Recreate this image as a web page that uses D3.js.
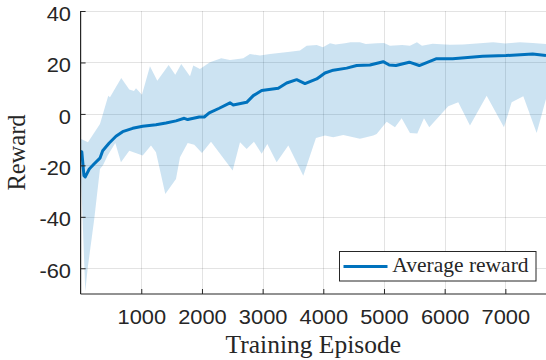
<!DOCTYPE html>
<html>
<head>
<meta charset="utf-8">
<script src="https://cdn.jsdelivr.net/npm/d3@7"></script>
<style>
  html, body { margin: 0; padding: 0; background: #ffffff; }
  svg { display: block; }
</style>
</head>
<body>
<svg id="chart" width="546" height="360"></svg>
<script>
// Average training reward with its min/max spread over episodes
const meanEpisodes = [0, 20, 55, 77, 143, 225, 319, 364, 472, 583, 693, 858, 1023, 1242, 1407, 1572, 1708, 1765, 1956, 2038, 2120, 2285, 2462, 2516, 2737, 2846, 2984, 3258, 3396, 3561, 3698, 3891, 4027, 4164, 4385, 4550, 4769, 4988, 5087, 5197, 5417, 5581, 5857, 6132, 6626, 7010, 7450, 7670];
const meanReward = [-14.6, -14.8, -24, -24.5, -21.4, -19.4, -17.2, -14.3, -11.3, -8.7, -6.9, -5.6, -4.8, -4.2, -3.5, -2.7, -1.7, -2.2, -1.2, -1.2, 0.4, 2.2, 4.3, 3.5, 4.5, 7.1, 9.1, 10.0, 12.0, 13.3, 11.8, 13.6, 15.9, 17.0, 17.8, 18.8, 19.0, 20.3, 19.0, 18.8, 20.1, 18.8, 21.4, 21.4, 22.4, 22.7, 23.3, 22.7];

const upperEpisodes = [0, 121, 319, 456, 484, 670, 802, 880, 913, 1011, 1143, 1264, 1451, 1560, 1659, 1803, 1857, 1967, 2132, 2318, 2462, 2627, 2681, 2791, 2956, 3121, 3450, 3615, 3726, 3891, 3994, 4110, 4200, 4357, 4450, 4604, 4700, 4879, 5000, 5098, 5300, 5428, 5543, 5626, 5800, 6087, 6300, 6581, 6800, 7000, 7241, 7450, 7670];
const upperReward = [-9.7, -11, -3.9, 7.1, 6.5, 14.0, 9.5, 8.9, 10.0, 7.4, 18.5, 12.9, 19.0, 15.2, 19.4, 14.6, 18.8, 17.5, 20.1, 21.6, 21.0, 21.4, 21.6, 23.3, 22.7, 23.3, 24.2, 24.6, 26.5, 26.8, 25.9, 27.5, 27.0, 27.5, 27.9, 27.9, 27.2, 27.5, 27.6, 26.5, 26.8, 26.5, 27.9, 26.5, 27.3, 26.9, 27.0, 27.5, 27.9, 27.4, 27.9, 27.6, 27.2];

const lowerEpisodes = [0, 77, 117, 225, 319, 369, 446, 572, 665, 802, 1023, 1160, 1242, 1396, 1572, 1638, 1765, 1873, 2000, 2149, 2506, 2627, 2737, 2857, 2984, 3077, 3231, 3423, 3670, 3879, 4027, 4164, 4329, 4604, 4824, 4879, 5044, 5181, 5291, 5428, 5549, 5659, 5746, 6059, 6224, 6417, 6692, 6977, 7104, 7296, 7516, 7670];
const lowerReward = [-20, -69, -60, -40.8, -21.4, -20, -16.2, -11.3, -18.8, -14.3, -16.2, -12.3, -14.9, -31.1, -25.3, -16.8, -11.3, -12.0, -15.2, -10.8, -22.0, -11, -13.6, -10.8, -15.5, -11.7, -18.8, -12.3, -24.0, -9.4, -8.4, -9.1, -8.2, -9.7, -8.4, -7.8, -3.0, -5.2, -1.7, -7.4, -7.6, -1.7, -5.2, 3.0, 4.5, -4.5, 7.1, -5.2, 4.5, 6.9, -7.4, 5.8];

const xTicks = [1000, 2000, 3000, 4000, 5000, 6000, 7000];
const yTicks = [-60, -40, -20, 0, 20, 40];
const xLabel = "Training Episode";
const yLabel = "Reward";
const legendLabel = "Average reward";

const blue = "#0072BD";
const ink = "#262626";

const svg = d3.select("#chart");
const plotLeft = 80.6, plotRight = 546, plotTop = 11, plotBottom = 294;

const x = d3.scaleLinear().domain([0, 7670]).range([plotLeft, plotRight]);
const y = d3.scaleLinear().domain([-70, 40]).range([plotBottom, plotTop]);

// grid
const grid = svg.append("g").attr("stroke", "rgba(38,38,38,0.13)").attr("stroke-width", 1);
grid.selectAll("line.v").data(xTicks).join("line").attr("class", "v")
  .attr("x1", d => Math.round(x(d)) + 0.5).attr("x2", d => Math.round(x(d)) + 0.5)
  .attr("y1", plotTop).attr("y2", plotBottom);
grid.selectAll("line.h").data(yTicks).join("line").attr("class", "h")
  .attr("y1", d => Math.round(y(d)) + 0.5).attr("y2", d => Math.round(y(d)) + 0.5)
  .attr("x1", plotLeft).attr("x2", plotRight);

// spread band: upper edge forward, lower edge back
const upperPts = upperEpisodes.map((e, i) => [e, upperReward[i]]);
const lowerPts = lowerEpisodes.map((e, i) => [e, lowerReward[i]]).reverse();
const pathLine = d3.line().x(d => x(d[0])).y(d => y(d[1]));
svg.append("path")
  .attr("d", pathLine(upperPts.concat(lowerPts)) + "Z")
  .attr("fill", blue).attr("fill-opacity", 0.2).attr("stroke", "none");

// mean line
const meanPts = meanEpisodes.map((e, i) => [e, meanReward[i]]);
svg.append("path")
  .attr("d", pathLine(meanPts))
  .attr("fill", "none").attr("stroke", blue).attr("stroke-width", 3)
  .attr("stroke-linejoin", "round");

// axes (plain hyphen for negative labels)
const plainFormat = d => String(d);
const xAxis = svg.append("g").attr("transform", `translate(0,${plotBottom})`)
  .call(d3.axisBottom(x).tickValues(xTicks).tickSize(-5).tickPadding(0).tickFormat(plainFormat));
const yAxis = svg.append("g").attr("transform", `translate(${plotLeft},0)`)
  .call(d3.axisLeft(y).tickValues(yTicks).tickSize(-5).tickPadding(0).tickFormat(plainFormat));

[xAxis, yAxis].forEach(a => {
  a.select(".domain").remove();
  a.selectAll(".tick line").attr("stroke", ink).attr("stroke-width", 1);
  a.selectAll(".tick text")
    .attr("fill", ink)
    .attr("font-family", "'Liberation Sans', Arial, sans-serif")
    .attr("font-size", "19.5px");
});
svg.append("line").attr("x1", plotLeft).attr("x2", plotRight).attr("y1", plotBottom).attr("y2", plotBottom)
  .attr("stroke", ink).attr("stroke-width", 1.2);
svg.append("line").attr("x1", plotLeft).attr("x2", plotLeft).attr("y1", plotTop).attr("y2", plotBottom)
  .attr("stroke", ink).attr("stroke-width", 1.2);

xAxis.selectAll(".tick text")
  .attr("y", 30).attr("dy", null)
  .attr("transform", "scale(1.12,1)");
yAxis.selectAll(".tick text")
  .attr("x", -9.6 / 1.12).attr("dy", "0.47em")
  .attr("transform", "scale(1.12,1)");

// axis titles
svg.append("text")
  .attr("x", (plotLeft + plotRight) / 2).attr("y", 352.5)
  .attr("text-anchor", "middle")
  .attr("font-family", "'Liberation Serif', 'Times New Roman', serif")
  .attr("font-size", "25.5px").attr("fill", ink)
  .text(xLabel);
svg.append("text")
  .attr("transform", `translate(25,${(plotTop + plotBottom) / 2}) rotate(-90)`)
  .attr("text-anchor", "middle")
  .attr("font-family", "'Liberation Serif', 'Times New Roman', serif")
  .attr("font-size", "24.5px").attr("fill", ink)
  .text(yLabel);

// legend
const lg = svg.append("g");
lg.append("rect").attr("x", 339.5).attr("y", 251.5).attr("width", 196.5).attr("height", 29.5)
  .attr("fill", "#ffffff").attr("stroke", ink).attr("stroke-width", 1);
lg.append("line").attr("x1", 343.5).attr("x2", 387.5).attr("y1", 266.5).attr("y2", 266.5)
  .attr("stroke", blue).attr("stroke-width", 3);
lg.append("text").attr("x", 392.3).attr("y", 271.8)
  .attr("font-family", "'Liberation Serif', 'Times New Roman', serif")
  .attr("font-size", "21.5px").attr("fill", ink)
  .text(legendLabel);
</script>
</body>
</html>
